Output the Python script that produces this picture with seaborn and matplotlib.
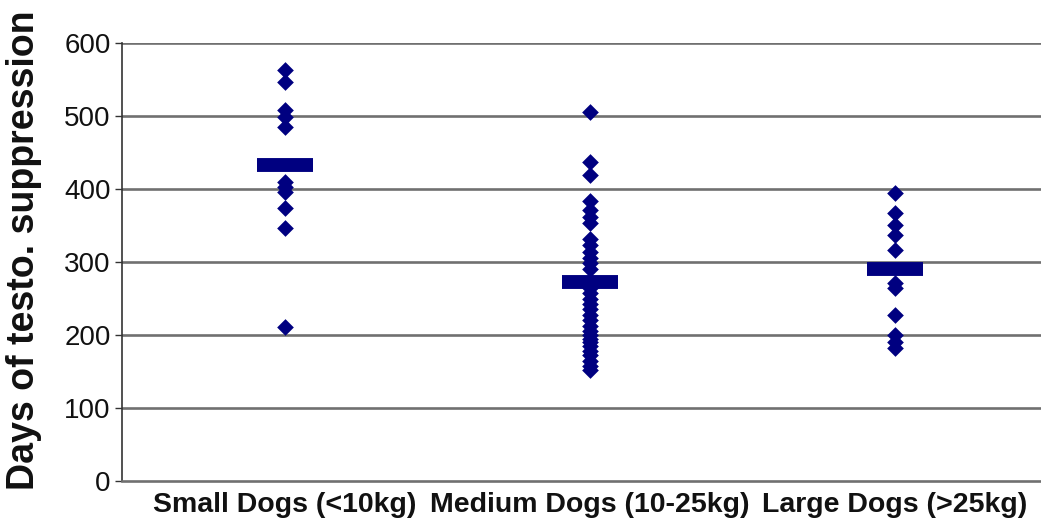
import numpy as np
import pandas as pd
import matplotlib
matplotlib.use('Agg')
import matplotlib.pyplot as plt
import seaborn as sns

groups = ['Small Dogs (<10kg)', 'Medium Dogs (10-25kg)', 'Large Dogs (>25kg)']

small = [563, 547, 508, 499, 485, 410, 403, 396, 374, 346, 211]
medium = [505, 437, 419, 383, 371, 362, 353, 332, 323, 314, 305, 298, 291,
          265, 258, 250, 243, 236, 228, 220, 212, 205, 200, 195, 190, 185,
          178, 172, 165, 158, 152]
large = [394, 367, 351, 337, 316, 271, 264, 227, 200, 191, 182]

# mean bars
means = [433, 273, 290]

df = pd.DataFrame({
    'group': [groups[0]] * len(small) + [groups[1]] * len(medium) + [groups[2]] * len(large),
    'days': small + medium + large,
})

navy = '#000080'

sns.set_style('white')
plt.rcParams['font.family'] = ['Liberation Sans', 'DejaVu Sans']
plt.rcParams['text.color'] = '#111111'
plt.rcParams['axes.labelcolor'] = '#111111'
plt.rcParams['xtick.color'] = '#111111'
plt.rcParams['ytick.color'] = '#111111'

fig = plt.figure(figsize=(10.41, 5.18), dpi=100)
ax = fig.add_axes([0.117, 0.0714, 0.883, 0.8456])

for v in range(100, 601, 100):
    ax.axhline(v, color='#707070', lw=1.9, zorder=0)

sns.stripplot(data=df, x='group', y='days', order=groups, jitter=False,
              marker='D', size=8.5, color=navy, linewidth=0, ax=ax, zorder=3)

ax.plot(range(len(groups)), means, linestyle='none', marker='_',
        markersize=40, markeredgewidth=10, color=navy, zorder=4)

ax.set_xlim(-0.534, 2.48)
ax.set_ylim(0, 600)
ax.set_yticks(range(0, 601, 100))

ax.set_xlabel('')
ax.set_ylabel('Days of testo. suppression', fontsize=27, fontweight='bold')
ax.yaxis.set_label_coords(-0.087, 0.527)

ax.tick_params(axis='y', direction='out', length=5, width=1, color='#333333',
               labelsize=20, pad=3, left=True)
ax.tick_params(axis='x', length=0, labelsize=20.5, pad=8)
for lab in ax.get_xticklabels():
    lab.set_fontweight('bold')

for s in ['top', 'right']:
    ax.spines[s].set_visible(False)
ax.spines['left'].set_color('#333333')
ax.spines['left'].set_linewidth(1.2)
ax.spines['bottom'].set_color('#707070')
ax.spines['bottom'].set_linewidth(1.9)

fig.savefig('out.png', dpi=100)
